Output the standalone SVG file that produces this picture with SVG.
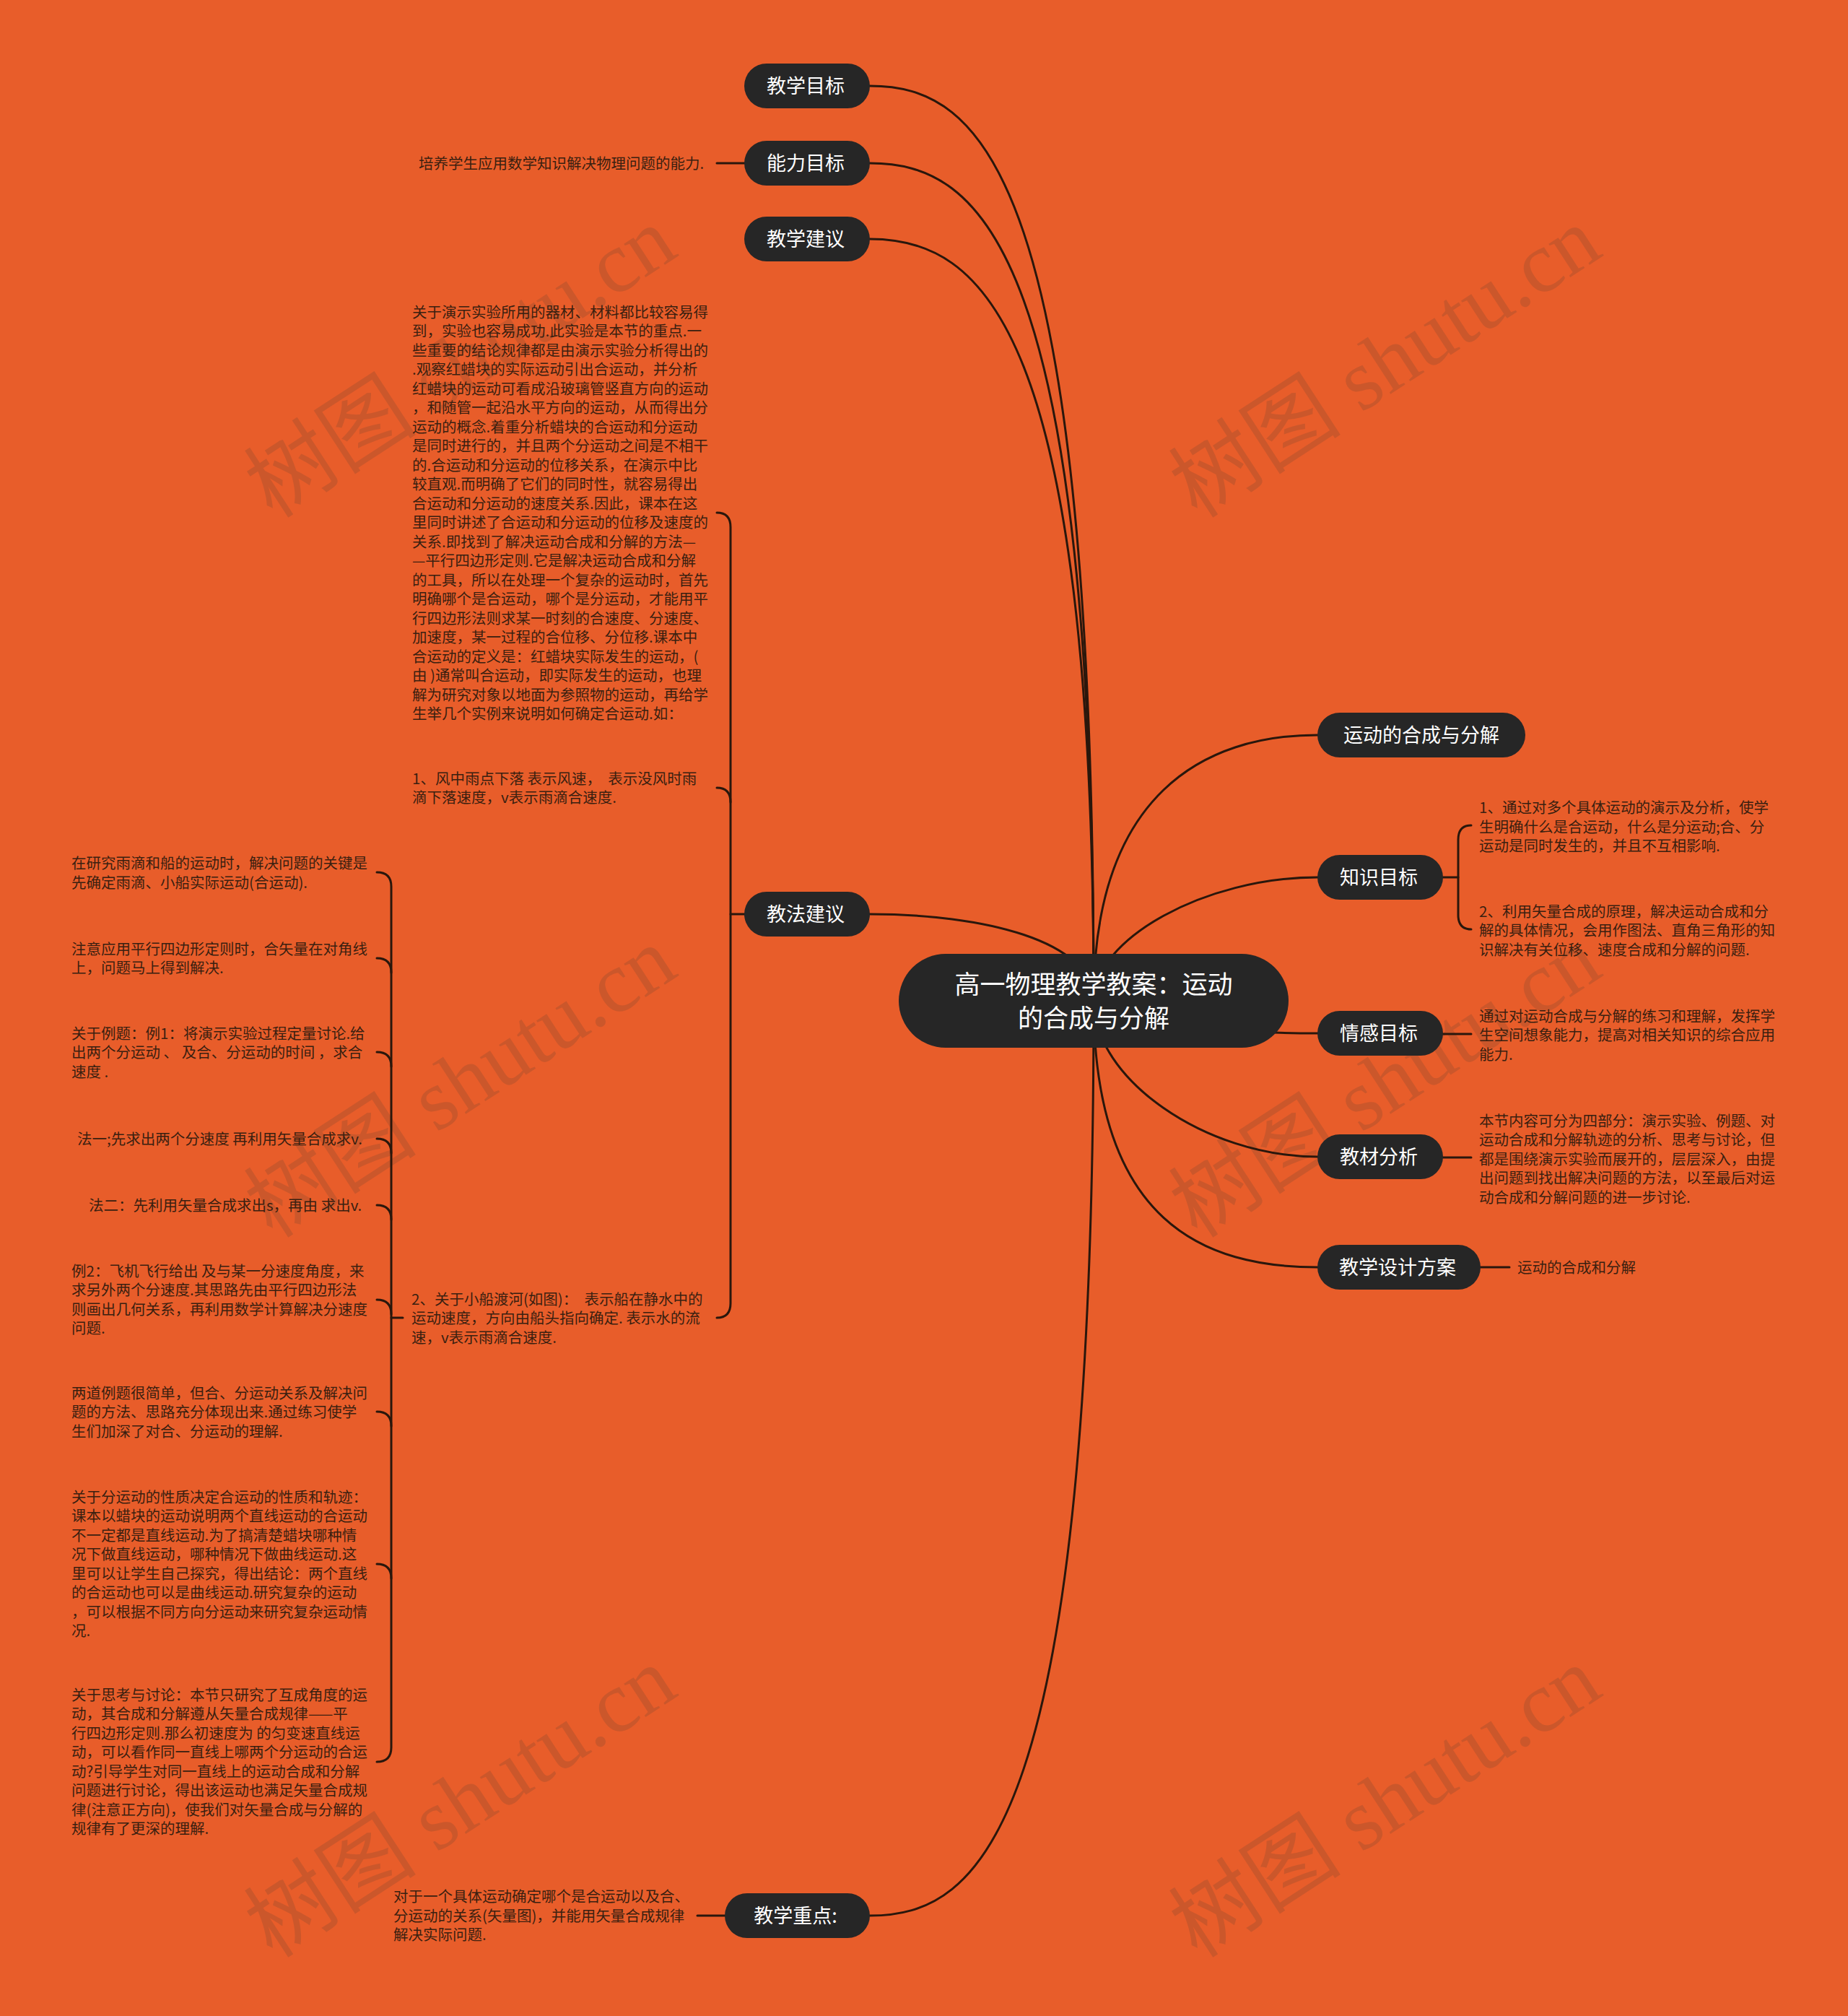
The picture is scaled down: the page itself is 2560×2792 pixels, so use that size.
<svg xmlns="http://www.w3.org/2000/svg" width="2560" height="2792" viewBox="0 0 2560 2792">
<style>
.bg{fill:#E85D2A}
.nd{fill:#262626}
.nt{fill:#ffffff;font-family:"Noto Sans CJK SC","Noto Sans",sans-serif;font-size:27px;text-anchor:middle}
.ct{fill:#ffffff;font-family:"Noto Sans CJK SC","Noto Sans",sans-serif;font-size:35px;text-anchor:middle}
.t{fill:#3a1f10;font-family:"Noto Sans CJK SC","Noto Sans",sans-serif;font-size:20.5px}
.c{fill:none;stroke:#2a170c;stroke-width:3;stroke-linecap:round}
.wm{fill:#8a4a30;opacity:0.3;font-family:"Liberation Serif","Noto Sans CJK SC",serif;font-size:120px;text-anchor:middle}
</style>
<rect class="bg" x="0" y="0" width="2560" height="2792"/>
<g id="watermarks">
<text class="wm" transform="translate(645,513) rotate(-33)" dominant-baseline="middle">树图 shutu.cn</text>
<text class="wm" transform="translate(1926,513) rotate(-33)" dominant-baseline="middle">树图 shutu.cn</text>
<text class="wm" transform="translate(645,1510) rotate(-33)" dominant-baseline="middle">树图 shutu.cn</text>
<text class="wm" transform="translate(1926,1510) rotate(-33)" dominant-baseline="middle">树图 shutu.cn</text>
<text class="wm" transform="translate(645,2507) rotate(-33)" dominant-baseline="middle">树图 shutu.cn</text>
<text class="wm" transform="translate(1926,2507) rotate(-33)" dominant-baseline="middle">树图 shutu.cn</text>
</g>
<g id="connectors">
<path class="c" d="M1205,119 C1360,119 1515,239 1515,1386"/>
<path class="c" d="M1205,226 C1360,226 1515,346 1515,1386"/>
<path class="c" d="M1205,331 C1360,331 1515,451 1515,1386"/>
<path class="c" d="M1205,1266 C1360,1266 1515,1302 1515,1386"/>
<path class="c" d="M1205,2653 C1360,2653 1515,2533 1515,1386"/>
<path class="c" d="M1825,1018 C1670,1018 1515,1098 1515,1386"/>
<path class="c" d="M1825,1215 C1670,1215 1515,1300 1515,1386"/>
<path class="c" d="M1825,1431 C1670,1431 1515,1408 1515,1386"/>
<path class="c" d="M1825,1602 C1670,1602 1515,1494 1515,1386"/>
<path class="c" d="M1825,1755 C1670,1755 1515,1695 1515,1386"/>
<path class="c" d="M1033,1266 L1012,1266"/>
<path class="c" d="M993,710 Q1012,710 1012,730 L1012,1805 Q1012,1825 993,1825"/>
<path class="c" d="M993,1091 Q1012,1091 1012,1111"/>
<path class="c" d="M558,1825 L542,1825"/>
<path class="c" d="M522,1208 Q542,1208 542,1228 L542,2420 Q542,2440 522,2440"/>
<path class="c" d="M522,1327 Q542,1327 542,1347"/>
<path class="c" d="M522,1457 Q542,1457 542,1477"/>
<path class="c" d="M522,1577 Q542,1577 542,1597"/>
<path class="c" d="M522,1669 Q542,1669 542,1689"/>
<path class="c" d="M522,1800 Q542,1800 542,1820"/>
<path class="c" d="M522,1955 Q542,1955 542,1975"/>
<path class="c" d="M522,2166 Q542,2166 542,2186"/>
<path class="c" d="M1999,1215 L2020,1215"/>
<path class="c" d="M2038,1143 Q2020,1143 2020,1163 L2020,1267 Q2020,1287 2038,1287"/>
<path class="c" d="M993,226 L1031,226"/>
<path class="c" d="M966,2653 L1004,2653"/>
<path class="c" d="M1999,1432 L2038,1432"/>
<path class="c" d="M1999,1603 L2038,1603"/>
<path class="c" d="M2051,1755 L2091,1755"/>
</g>
<g id="center">
<rect class="nd" x="1245" y="1321" width="540" height="130" rx="65"/>
<text class="ct"><tspan x="1515" y="1376">高一物理教学教案：运动</tspan><tspan x="1515" y="1423">的合成与分解</tspan></text>
</g>
<g id="n-jiaoxuemubiao">
<rect class="nd" x="1031" y="88" width="174" height="62" rx="31"/>
<text class="nt" x="1116" y="129">教学目标</text>
</g>
<g id="n-nengli">
<rect class="nd" x="1031" y="195" width="174" height="62" rx="31"/>
<text class="nt" x="1116" y="236">能力目标</text>
<text class="t" x="580" y="233.5">培养学生应用数学知识解决物理问题的能力.</text>
</g>
<g id="n-jianyi">
<rect class="nd" x="1031" y="300" width="174" height="62" rx="31"/>
<text class="nt" x="1116" y="341">教学建议</text>
</g>
<g id="n-jiaofa">
<rect class="nd" x="1031" y="1235" width="174" height="62" rx="31"/>
<text class="nt" x="1116" y="1276">教法建议</text>
</g>
<g id="n-jiaofa-1">
<text class="t" xml:space="preserve"><tspan x="571" y="439.5">关于演示实验所用的器材、材料都比较容易得</tspan><tspan x="571" y="466">到，实验也容易成功.此实验是本节的重点.一</tspan><tspan x="571" y="492.5">些重要的结论规律都是由演示实验分析得出的</tspan><tspan x="571" y="519">.观察红蜡块的实际运动引出合运动，并分析</tspan><tspan x="571" y="545.5">红蜡块的运动可看成沿玻璃管竖直方向的运动</tspan><tspan x="571" y="572">，和随管一起沿水平方向的运动，从而得出分</tspan><tspan x="571" y="598.5">运动的概念.着重分析蜡块的合运动和分运动</tspan><tspan x="571" y="625">是同时进行的，并且两个分运动之间是不相干</tspan><tspan x="571" y="651.5">的.合运动和分运动的位移关系，在演示中比</tspan><tspan x="571" y="678">较直观.而明确了它们的同时性，就容易得出</tspan><tspan x="571" y="704.5">合运动和分运动的速度关系.因此，课本在这</tspan><tspan x="571" y="731">里同时讲述了合运动和分运动的位移及速度的</tspan><tspan x="571" y="757.5">关系.即找到了解决运动合成和分解的方法—</tspan><tspan x="571" y="784">—平行四边形定则.它是解决运动合成和分解</tspan><tspan x="571" y="810.5">的工具，所以在处理一个复杂的运动时，首先</tspan><tspan x="571" y="837">明确哪个是合运动，哪个是分运动，才能用平</tspan><tspan x="571" y="863.5">行四边形法则求某一时刻的合速度、分速度、</tspan><tspan x="571" y="890">加速度，某一过程的合位移、分位移.课本中</tspan><tspan x="571" y="916.5">合运动的定义是：红蜡块实际发生的运动，(</tspan><tspan x="571" y="943">由 )通常叫合运动，即实际发生的运动，也理</tspan><tspan x="571" y="969.5">解为研究对象以地面为参照物的运动，再给学</tspan><tspan x="571" y="996">生举几个实例来说明如何确定合运动.如：</tspan></text>
</g>
<g id="n-jiaofa-2">
<text class="t" xml:space="preserve"><tspan x="571" y="1085.5">1、风中雨点下落 表示风速，  表示没风时雨</tspan><tspan x="571" y="1112">滴下落速度，v表示雨滴合速度.</tspan></text>
</g>
<g id="n-jiaofa-3">
<text class="t" xml:space="preserve"><tspan x="570" y="1806.5">2、关于小船渡河(如图)：  表示船在静水中的</tspan><tspan x="570" y="1833">运动速度，方向由船头指向确定. 表示水的流</tspan><tspan x="570" y="1859.5">速，v表示雨滴合速度.</tspan></text>
</g>
<g id="n-left-1">
<text class="t"><tspan x="99" y="1203">在研究雨滴和船的运动时，解决问题的关键是</tspan><tspan x="99" y="1229.5">先确定雨滴、小船实际运动(合运动).</tspan></text>
</g>
<g id="n-left-2">
<text class="t"><tspan x="99" y="1321.5">注意应用平行四边形定则时，合矢量在对角线</tspan><tspan x="99" y="1348">上，问题马上得到解决.</tspan></text>
</g>
<g id="n-left-3">
<text class="t" xml:space="preserve"><tspan x="99" y="1438.5">关于例题：例1：将演示实验过程定量讨论.给</tspan><tspan x="99" y="1465">出两个分运动 、 及合、分运动的时间 ，求合</tspan><tspan x="99" y="1491.5">速度 .</tspan></text>
</g>
<g id="n-left-4">
<text class="t" x="107" y="1584.5" xml:space="preserve">法一;先求出两个分速度 再利用矢量合成求v.</text>
</g>
<g id="n-left-5">
<text class="t" x="123" y="1676.5" xml:space="preserve">法二：先利用矢量合成求出s，再由 求出v.</text>
</g>
<g id="n-left-6">
<text class="t" xml:space="preserve"><tspan x="99" y="1767.5">例2：飞机飞行给出 及与某一分速度角度，来</tspan><tspan x="99" y="1794">求另外两个分速度.其思路先由平行四边形法</tspan><tspan x="99" y="1820.5">则画出几何关系，再利用数学计算解决分速度</tspan><tspan x="99" y="1847">问题.</tspan></text>
</g>
<g id="n-left-7">
<text class="t"><tspan x="99" y="1936.5">两道例题很简单，但合、分运动关系及解决问</tspan><tspan x="99" y="1963">题的方法、思路充分体现出来.通过练习使学</tspan><tspan x="99" y="1989.5">生们加深了对合、分运动的理解.</tspan></text>
</g>
<g id="n-left-8">
<text class="t"><tspan x="99" y="2080.5">关于分运动的性质决定合运动的性质和轨迹：</tspan><tspan x="99" y="2107">课本以蜡块的运动说明两个直线运动的合运动</tspan><tspan x="99" y="2133.5">不一定都是直线运动.为了搞清楚蜡块哪种情</tspan><tspan x="99" y="2160">况下做直线运动，哪种情况下做曲线运动.这</tspan><tspan x="99" y="2186.5">里可以让学生自己探究，得出结论：两个直线</tspan><tspan x="99" y="2213">的合运动也可以是曲线运动.研究复杂的运动</tspan><tspan x="99" y="2239.5">，可以根据不同方向分运动来研究复杂运动情</tspan><tspan x="99" y="2266">况.</tspan></text>
</g>
<g id="n-left-9">
<text class="t" xml:space="preserve"><tspan x="99" y="2354.5">关于思考与讨论：本节只研究了互成角度的运</tspan><tspan x="99" y="2381">动，其合成和分解遵从矢量合成规律——平</tspan><tspan x="99" y="2407.5">行四边形定则.那么初速度为 的匀变速直线运</tspan><tspan x="99" y="2434">动，可以看作同一直线上哪两个分运动的合运</tspan><tspan x="99" y="2460.5">动?引导学生对同一直线上的运动合成和分解</tspan><tspan x="99" y="2487">问题进行讨论，得出该运动也满足矢量合成规</tspan><tspan x="99" y="2513.5">律(注意正方向)，使我们对矢量合成与分解的</tspan><tspan x="99" y="2540">规律有了更深的理解.</tspan></text>
</g>
<g id="n-zhongdian">
<rect class="nd" x="1004" y="2622" width="201" height="62" rx="31"/>
<text class="nt" x="1102" y="2663">教学重点:</text>
<text class="t"><tspan x="545" y="2634">对于一个具体运动确定哪个是合运动以及合、</tspan><tspan x="545" y="2660.5">分运动的关系(矢量图)，并能用矢量合成规律</tspan><tspan x="545" y="2687">解决实际问题.</tspan></text>
</g>
<g id="n-yundong">
<rect class="nd" x="1825" y="987" width="288" height="62" rx="31"/>
<text class="nt" x="1969" y="1028">运动的合成与分解</text>
</g>
<g id="n-zhishi">
<rect class="nd" x="1825" y="1184" width="174" height="62" rx="31"/>
<text class="nt" x="1910" y="1225">知识目标</text>
<text class="t"><tspan x="2049" y="1126">1、通过对多个具体运动的演示及分析，使学</tspan><tspan x="2049" y="1152.5">生明确什么是合运动，什么是分运动;合、分</tspan><tspan x="2049" y="1179">运动是同时发生的，并且不互相影响.</tspan></text>
<text class="t"><tspan x="2049" y="1269.5">2、利用矢量合成的原理，解决运动合成和分</tspan><tspan x="2049" y="1296">解的具体情况，会用作图法、直角三角形的知</tspan><tspan x="2049" y="1322.5">识解决有关位移、速度合成和分解的问题.</tspan></text>
</g>
<g id="n-qinggan">
<rect class="nd" x="1825" y="1400" width="174" height="62" rx="31"/>
<text class="nt" x="1910" y="1441">情感目标</text>
<text class="t"><tspan x="2049" y="1414.5">通过对运动合成与分解的练习和理解，发挥学</tspan><tspan x="2049" y="1441">生空间想象能力，提高对相关知识的综合应用</tspan><tspan x="2049" y="1467.5">能力.</tspan></text>
</g>
<g id="n-jiaocai">
<rect class="nd" x="1825" y="1571" width="174" height="62" rx="31"/>
<text class="nt" x="1910" y="1612">教材分析</text>
<text class="t"><tspan x="2049" y="1559.5">本节内容可分为四部分：演示实验、例题、对</tspan><tspan x="2049" y="1586">运动合成和分解轨迹的分析、思考与讨论，但</tspan><tspan x="2049" y="1612.5">都是围绕演示实验而展开的，层层深入，由提</tspan><tspan x="2049" y="1639">出问题到找出解决问题的方法，以至最后对运</tspan><tspan x="2049" y="1665.5">动合成和分解问题的进一步讨论.</tspan></text>
</g>
<g id="n-sheji">
<rect class="nd" x="1825" y="1724" width="226" height="62" rx="31"/>
<text class="nt" x="1936" y="1765">教学设计方案</text>
<text class="t" x="2102" y="1762.5">运动的合成和分解</text>
</g>
</svg>
